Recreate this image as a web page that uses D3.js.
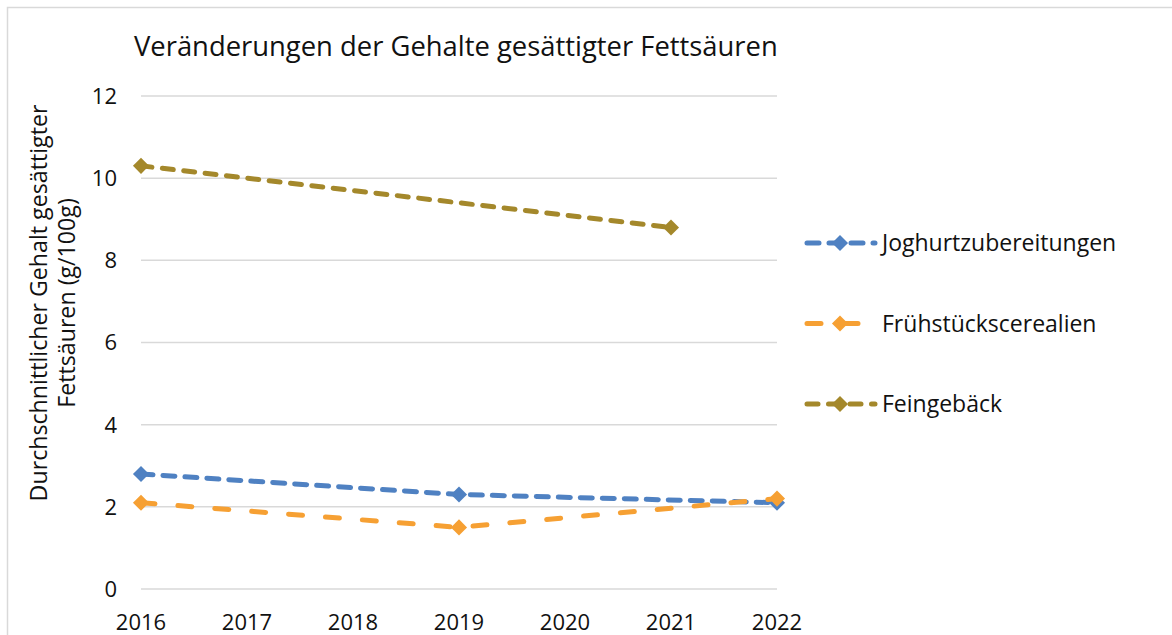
<!DOCTYPE html>
<html>
<head>
<meta charset="utf-8">
<script src="https://cdn.jsdelivr.net/npm/d3@7"></script>
<style>
  html, body { margin: 0; padding: 0; background: #fff; }
  svg { display: block; font-family: "Open Sans", sans-serif; }
</style>
</head>
<body>
<div id="chart"></div>
<script>
// data
var seriesNames = ["Joghurtzubereitungen", "Frühstückscerealien", "Feingebäck"];
var joghurtYears = [2016, 2019, 2022];
var joghurtValues = [2.8, 2.3, 2.1];
var cerealYears = [2016, 2019, 2022];
var cerealValues = [2.1, 1.5, 2.2];
var gebaeckYears = [2016, 2021];
var gebaeckValues = [10.3, 8.8];
var yearTicks = [2016, 2017, 2018, 2019, 2020, 2021, 2022];
var valueTicks = [0, 2, 4, 6, 8, 10, 12];

var width = 1172,
    height = 635;

var colors = ["#4f81c2", "#f6a033", "#a4882b"];
var dashes = ["12 10", "14 23", "11 10.5"];

var series = [
  { name: seriesNames[0], years: joghurtYears, values: joghurtValues },
  { name: seriesNames[1], years: cerealYears, values: cerealValues },
  { name: seriesNames[2], years: gebaeckYears, values: gebaeckValues }
];

var svg = d3.select("#chart")
  .append("svg")
    .attr("width", width)
    .attr("height", height);

// chart frame (runs off right and bottom)
svg.append("rect")
  .attr("x", 7.5).attr("y", 7.5)
  .attr("width", width + 20).attr("height", height + 20)
  .attr("fill", "none")
  .attr("stroke", "#d9d9d9")
  .attr("stroke-width", 1.5);

var x = d3.scaleLinear().domain([2016, 2022]).range([141, 777]);
var y = d3.scaleLinear().domain([0, 12]).range([589, 96]);

// title
svg.append("text")
  .attr("x", 134).attr("y", 56)
  .attr("font-size", 27.4)
  .attr("fill", "#111")
  .text("Veränderungen der Gehalte gesättigter Fettsäuren");

// gridlines
svg.selectAll(".grid")
  .data(valueTicks)
  .enter()
  .append("line")
    .attr("x1", x.range()[0]).attr("x2", x.range()[1])
    .attr("y1", function(d) { return y(d); })
    .attr("y2", function(d) { return y(d); })
    .attr("stroke", "#d9d9d9")
    .attr("stroke-width", 1.5);

// y tick labels
svg.selectAll(".ylab")
  .data(valueTicks)
  .enter()
  .append("text")
    .attr("x", 117)
    .attr("y", function(d) { return y(d); })
    .attr("dy", "0.36em")
    .attr("text-anchor", "end")
    .attr("font-size", 22)
    .attr("fill", "#111")
    .text(function(d) { return d; });

// x tick labels
svg.selectAll(".xlab")
  .data(yearTicks)
  .enter()
  .append("text")
    .attr("x", function(d) { return x(d); })
    .attr("y", 630)
    .attr("text-anchor", "middle")
    .attr("font-size", 22)
    .attr("fill", "#111")
    .text(function(d) { return d; });

// y axis title, two lines
var yTitle = svg.append("text")
  .attr("transform", "translate(47,303) rotate(-90)")
  .attr("text-anchor", "middle")
  .attr("font-size", 23.2)
  .attr("fill", "#111");
yTitle.append("tspan").attr("x", 0).attr("y", 0).text("Durchschnittlicher Gehalt gesättigter");
yTitle.append("tspan").attr("x", 0).attr("y", 28).text("Fettsäuren (g/100g)");

var line = d3.line()
  .x(function(d) { return x(d[0]); })
  .y(function(d) { return y(d[1]); });

var diamond = d3.symbol().type(d3.symbolDiamond2).size(165);

series.forEach(function(s, i) {
  var pts = d3.zip(s.years, s.values);
  svg.append("path")
    .datum(pts)
    .attr("d", line)
    .attr("fill", "none")
    .attr("stroke", colors[i])
    .attr("stroke-width", 5)
    .attr("stroke-linecap", "round")
    .attr("stroke-dasharray", dashes[i]);
  svg.selectAll(".m" + i)
    .data(pts)
    .enter()
    .append("path")
      .attr("d", diamond)
      .attr("transform", function(d) { return "translate(" + x(d[0]) + "," + y(d[1]) + ")"; })
      .attr("fill", colors[i]);
});

// legend
var legendY = d3.scalePoint().domain(seriesNames).range([243, 404]);
var leg = svg.selectAll(".leg")
  .data(series)
  .enter()
  .append("g")
    .attr("transform", function(d) { return "translate(0," + legendY(d.name) + ")"; });
leg.append("line")
  .attr("x1", 807).attr("x2", 875)
  .attr("y1", 0).attr("y2", 0)
  .attr("stroke", function(d, i) { return colors[i]; })
  .attr("stroke-width", 5)
  .attr("stroke-linecap", "round")
  .attr("stroke-dasharray", function(d, i) { return dashes[i]; });
leg.append("path")
  .attr("d", diamond)
  .attr("transform", "translate(840,0)")
  .attr("fill", function(d, i) { return colors[i]; });
leg.append("text")
  .attr("x", 882)
  .attr("dy", "0.36em")
  .attr("font-size", 23)
  .attr("fill", "#111")
  .text(function(d) { return d.name; });
</script>
</body>
</html>
